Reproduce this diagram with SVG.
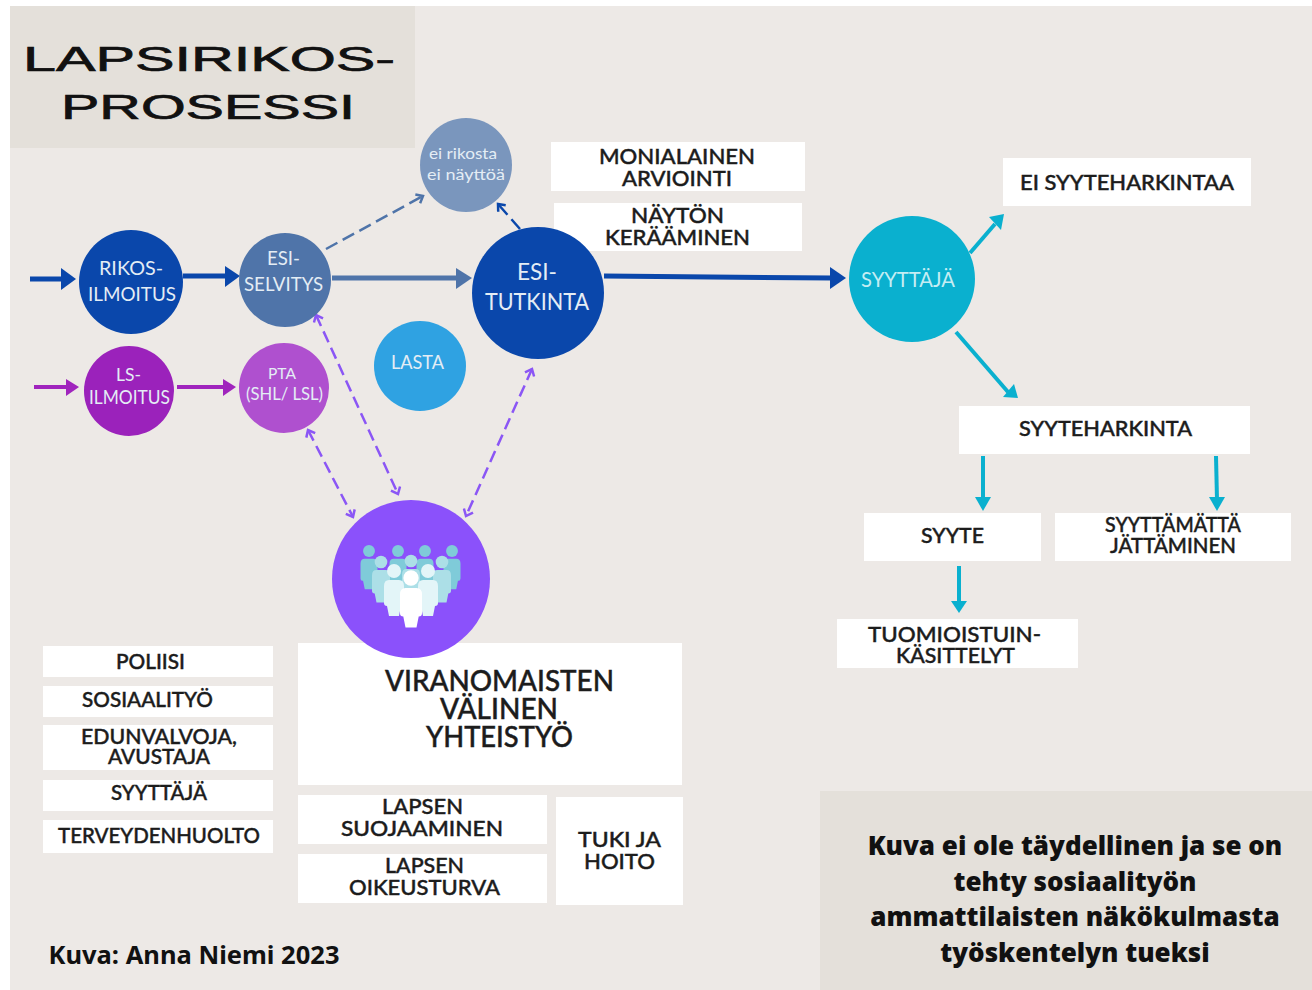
<svg xmlns="http://www.w3.org/2000/svg" width="1312" height="990" viewBox="0 0 1312 990">
<style>
text{font-family:"Lato","Liberation Sans",sans-serif;text-anchor:middle;lengthAdjust:spacingAndGlyphs}
.b{fill:#fff}
.t{font-size:22px;font-weight:500;fill:#1c1c1c;stroke:#1c1c1c;stroke-width:.45}
.s{font-size:21px;font-weight:500;fill:#1c1c1c;stroke:#1c1c1c;stroke-width:.45}
.v{font-size:29px;font-weight:500;fill:#1c1c1c;stroke:#1c1c1c;stroke-width:.45}
.c{font-weight:400;fill:#e4edf5;font-size:20px}
.title{font-family:"Liberation Sans",sans-serif;font-size:35px;fill:#111;stroke:#111;stroke-width:.7}
.note{font-family:"Open Sans",sans-serif;font-weight:800;font-size:26px;fill:#111}
.blue{stroke:#0a47ab;stroke-width:5;fill:none}
.slate{stroke:#4f74a9;stroke-width:5;fill:none}
.mag{stroke:#a024bd;stroke-width:4;fill:none}
.cy{stroke:#0ab0cf;stroke-width:4;fill:none}
.dp{stroke:#8b56f5;stroke-width:2.5;fill:none;stroke-dasharray:12 6;marker-start:url(#vs);marker-end:url(#ve)}
</style>
<defs>
<marker id="ve" markerWidth="12" markerHeight="12" refX="9" refY="6" orient="auto" markerUnits="userSpaceOnUse"><path d="M3 1L9 6L3 11" fill="none" stroke="#8b56f5" stroke-width="2.5"/></marker>
<marker id="vs" markerWidth="12" markerHeight="12" refX="3" refY="6" orient="auto" markerUnits="userSpaceOnUse"><path d="M9 1L3 6L9 11" fill="none" stroke="#8b56f5" stroke-width="2.5"/></marker>
<marker id="vb" markerWidth="12" markerHeight="12" refX="9" refY="6" orient="auto" markerUnits="userSpaceOnUse"><path d="M3 1L9 6L3 11" fill="none" stroke="#0a47ab" stroke-width="2.5"/></marker>
<marker id="vb2" markerWidth="12" markerHeight="12" refX="9" refY="6" orient="auto" markerUnits="userSpaceOnUse"><path d="M3 1L9 6L3 11" fill="none" stroke="#4f74a9" stroke-width="2.5"/></marker>
<g id="pers"><circle cx="0" cy="0" r="7"/><path d="M-10 15Q-10 9-5 9H5Q10 9 10 15V32Q10 35 7 35L5 45H-5L-7 35Q-10 35-10 32Z"/></g>
</defs>
<rect width="1312" height="990" fill="#fff"/>
<rect x="10" y="6" width="1302" height="984" fill="#ede9e6"/>
<g id="title-panel"><rect x="10" y="6" width="405" height="142" fill="#e4e0da"/>
<text class="title" x="209" y="71" textLength="372" lengthAdjust="spacingAndGlyphs">LAPSIRIKOS-</text>
<text class="title" x="208" y="119" textLength="294" lengthAdjust="spacingAndGlyphs">PROSESSI</text></g>
<g id="connectors">
<path class="blue" d="M30 279H65"/><path d="M61 268L76 279L61 290Z" fill="#0a47ab"/>
<path class="blue" d="M183 276H228"/><path d="M225 266L240 276L225 287Z" fill="#0a47ab"/>
<path class="slate" d="M332 278H458"/><path d="M456 268L472 278L456 289Z" fill="#4f74a9"/>
<path class="blue" d="M604 276L832 278"/><path d="M830 267L846 278L830 289Z" fill="#0a47ab"/>
<path class="mag" d="M34 387H68"/><path d="M66 379L79 387L66 396Z" fill="#a024bd"/>
<path class="mag" d="M177 387H225"/><path d="M223 379L236 387L223 396Z" fill="#a024bd"/>
<path d="M326 249L423 196" stroke="#4f74a9" stroke-width="2.5" fill="none" stroke-dasharray="13 6" marker-end="url(#vb2)"/>
<path d="M520 229L498 204" stroke="#0a47ab" stroke-width="2.5" fill="none" stroke-dasharray="13 6" marker-end="url(#vb)"/>
<path class="dp" d="M316 315L398 494"/>
<path class="dp" d="M308 430L353 517"/>
<path class="dp" d="M532 369L466 516"/>
<path class="cy" d="M970 253L995 224"/><path d="M989 217L1004 214L1001 230Z" fill="#0ab0cf"/>
<path class="cy" d="M956 332L1008 392"/><path d="M1003 397L1018 398L1014 384Z" fill="#0ab0cf"/>
<path class="cy" d="M983 456V500"/><path d="M975 497H991L983 511Z" fill="#0ab0cf"/>
<path class="cy" d="M1216 456L1217 500"/><path d="M1209 497H1225L1217 511Z" fill="#0ab0cf"/>
<path class="cy" d="M959 566V604"/><path d="M951 601H967L959 613Z" fill="#0ab0cf"/>
</g>
<g id="rikosilmoitus"><ellipse cx="131" cy="282" rx="52" ry="52" fill="#0a47ab"/><text class="c" x="131" y="275" textLength="64" lengthAdjust="spacingAndGlyphs">RIKOS-</text><text class="c" x="132" y="301" textLength="88" lengthAdjust="spacingAndGlyphs">ILMOITUS</text></g>
<g id="esiselvitys"><ellipse cx="285" cy="280" rx="46" ry="47" fill="#4f74a9"/><text class="c" x="283.500" y="265" textLength="33" lengthAdjust="spacingAndGlyphs">ESI-</text><text class="c" x="283.500" y="291" textLength="79" lengthAdjust="spacingAndGlyphs">SELVITYS</text></g>
<g id="ei-rikosta"><ellipse cx="466" cy="165" rx="46" ry="47" fill="#7a96bd"/><text class="c" x="463" y="159" style="font-size:16px" textLength="68" lengthAdjust="spacingAndGlyphs">ei rikosta</text><text class="c" x="466" y="180" style="font-size:16px" textLength="78" lengthAdjust="spacingAndGlyphs">ei näyttöä</text></g>
<g id="ls-ilmoitus"><ellipse cx="129" cy="391" rx="45" ry="45" fill="#9b22bb"/><text class="c" x="128.500" y="381" style="font-size:18px" textLength="25" lengthAdjust="spacingAndGlyphs">LS-</text><text class="c" x="129.500" y="404" style="font-size:19px" textLength="81" lengthAdjust="spacingAndGlyphs">ILMOITUS</text></g>
<g id="pta"><ellipse cx="284" cy="388" rx="45" ry="45" fill="#af50cf"/><text class="c" x="282" y="379" style="font-size:16px" textLength="28" lengthAdjust="spacingAndGlyphs">PTA</text><text class="c" x="284.500" y="400" style="font-size:18px" textLength="77" lengthAdjust="spacingAndGlyphs">(SHL/ LSL)</text></g>
<g id="lasta"><ellipse cx="420" cy="366" rx="46" ry="45" fill="#2fa2e2"/><text class="c" x="417.500" y="369" textLength="53" lengthAdjust="spacingAndGlyphs">LASTA</text></g>
<g id="syyttaja"><ellipse cx="912" cy="279" rx="63" ry="63" fill="#0ab0cf"/><text class="c" x="908" y="287" style="font-size:22px;fill:#c4edf3" textLength="94" lengthAdjust="spacingAndGlyphs">SYYTTÄJÄ</text></g>
<g id="ei-syyteharkintaa"><rect class="b" x="1003" y="158" width="248" height="48"/><text class="s" x="1127" y="190" textLength="214" lengthAdjust="spacingAndGlyphs">EI SYYTEHARKINTAA</text></g>
<g id="syyteharkinta"><rect class="b" x="959" y="406" width="291" height="48"/><text class="s" x="1105.500" y="436" textLength="173" lengthAdjust="spacingAndGlyphs">SYYTEHARKINTA</text></g>
<g id="syyte"><rect class="b" x="864" y="513" width="177" height="48"/><text class="s" x="952.500" y="543" textLength="63" lengthAdjust="spacingAndGlyphs">SYYTE</text></g>
<g id="syyttamatta"><rect class="b" x="1055" y="513" width="236" height="48"/><text class="s" x="1173" y="532" textLength="136" lengthAdjust="spacingAndGlyphs">SYYTTÄMÄTTÄ</text><text class="s" x="1173" y="553" textLength="126" lengthAdjust="spacingAndGlyphs">JÄTTÄMINEN</text></g>
<g id="tuomioistuin"><rect class="b" x="837" y="619" width="241" height="49"/><text class="t" x="954.500" y="642" textLength="173" lengthAdjust="spacingAndGlyphs">TUOMIOISTUIN-</text><text class="t" x="955.500" y="663" textLength="119" lengthAdjust="spacingAndGlyphs">KÄSITTELYT</text></g>
<g id="monialainen"><rect class="b" x="551" y="142" width="254" height="49"/><text class="t" x="677" y="164" textLength="156" lengthAdjust="spacingAndGlyphs">MONIALAINEN</text><text class="t" x="677" y="186" textLength="110" lengthAdjust="spacingAndGlyphs">ARVIOINTI</text></g>
<g id="nayton"><rect class="b" x="554" y="203" width="248" height="48"/><text class="t" x="677.500" y="223" textLength="93" lengthAdjust="spacingAndGlyphs">NÄYTÖN</text><text class="t" x="677.500" y="245" textLength="145" lengthAdjust="spacingAndGlyphs">KERÄÄMINEN</text></g>
<g id="esitutkinta"><ellipse cx="538" cy="293" rx="66" ry="66" fill="#0a47ab"/><text class="c" x="537" y="280" style="font-size:24px" textLength="40" lengthAdjust="spacingAndGlyphs">ESI-</text><text class="c" x="537" y="310" style="font-size:24px" textLength="104" lengthAdjust="spacingAndGlyphs">TUTKINTA</text></g>
<g id="viranomaiset"><rect class="b" x="298" y="643" width="384" height="142"/><text class="v" x="499.500" y="691" textLength="229" lengthAdjust="spacingAndGlyphs">VIRANOMAISTEN</text><text class="v" x="499" y="719" textLength="118" lengthAdjust="spacingAndGlyphs">VÄLINEN</text><text class="v" x="499.500" y="747" textLength="147" lengthAdjust="spacingAndGlyphs">YHTEISTYÖ</text></g>
<g id="people"><circle cx="411" cy="579" r="79" fill="#8b51fb"/>
<g fill="#7fcbd9"><use href="#pers" transform="translate(369 551) scale(.85)"/><use href="#pers" transform="translate(398 551) scale(.85)"/><use href="#pers" transform="translate(425 551) scale(.85)"/><use href="#pers" transform="translate(452 551) scale(.85)"/></g>
<g fill="#acdfe7"><use href="#pers" transform="translate(381 562) scale(.9)"/><use href="#pers" transform="translate(411 561) scale(.9)"/><use href="#pers" transform="translate(442 562) scale(.9)"/></g>
<g fill="#e3f5f8"><use href="#pers" transform="translate(394 571)"/><use href="#pers" transform="translate(428 571)"/></g>
<use href="#pers" transform="translate(411 578) scale(1.1)" fill="#fff"/></g>
<g id="poliisi"><rect class="b" x="43" y="646" width="230" height="31"/><text class="s" x="150.500" y="669" textLength="69" lengthAdjust="spacingAndGlyphs">POLIISI</text></g>
<g id="sosiaalityo"><rect class="b" x="43" y="686" width="230" height="31"/><text class="s" x="147.500" y="707" textLength="131" lengthAdjust="spacingAndGlyphs">SOSIAALITYÖ</text></g>
<g id="edunvalvoja"><rect class="b" x="43" y="725" width="230" height="45"/><text class="s" x="159" y="744" textLength="156" lengthAdjust="spacingAndGlyphs">EDUNVALVOJA,</text><text class="s" x="159" y="764" textLength="102" lengthAdjust="spacingAndGlyphs">AVUSTAJA</text></g>
<g id="syyttaja-box"><rect class="b" x="43" y="780" width="230" height="31"/><text class="s" x="159" y="800" textLength="96" lengthAdjust="spacingAndGlyphs">SYYTTÄJÄ</text></g>
<g id="terveydenhuolto"><rect class="b" x="43" y="820" width="230" height="33"/><text class="s" x="159" y="843" textLength="202" lengthAdjust="spacingAndGlyphs">TERVEYDENHUOLTO</text></g>
<g id="suojaaminen"><rect class="b" x="298" y="795" width="249" height="49"/><text class="t" x="422.500" y="814" textLength="81" lengthAdjust="spacingAndGlyphs">LAPSEN</text><text class="t" x="422" y="836" textLength="162" lengthAdjust="spacingAndGlyphs">SUOJAAMINEN</text></g>
<g id="oikeusturva"><rect class="b" x="298" y="854" width="249" height="49"/><text class="t" x="424.500" y="873" textLength="79" lengthAdjust="spacingAndGlyphs">LAPSEN</text><text class="t" x="424.500" y="895" textLength="151" lengthAdjust="spacingAndGlyphs">OIKEUSTURVA</text></g>
<g id="tuki"><rect class="b" x="556" y="797" width="127" height="108"/><text class="t" x="619.500" y="847" textLength="83" lengthAdjust="spacingAndGlyphs">TUKI JA</text><text class="t" x="619.500" y="869" textLength="71" lengthAdjust="spacingAndGlyphs">HOITO</text></g>
<text id="credit" x="194" y="964" textLength="291" lengthAdjust="spacingAndGlyphs" style="font-family:'Noto Sans',sans-serif;font-weight:700;font-size:25.500px;fill:#111">Kuva: Anna Niemi 2023</text>
<g id="note"><rect x="820" y="791" width="492" height="199" fill="#e4e0da"/>
<text class="note" x="1075" y="855">Kuva ei ole täydellinen ja se on</text>
<text class="note" x="1075" y="891">tehty sosiaalityön</text>
<text class="note" x="1075" y="926">ammattilaisten näkökulmasta</text>
<text class="note" x="1075" y="962">työskentelyn tueksi</text></g>
</svg>
